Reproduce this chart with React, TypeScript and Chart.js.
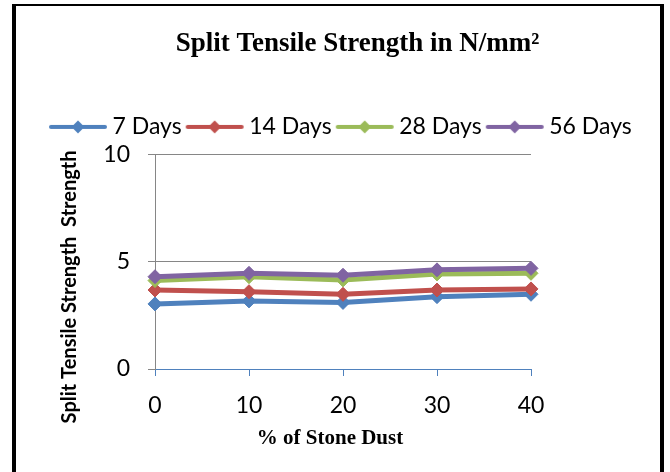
import React, { useEffect, useRef } from "react";
import { Chart, registerables } from "chart.js";
Chart.register(...registerables);

const categories = ["0", "10", "20", "30", "40"];
const seriesNames = ["7 Days", "14 Days", "28 Days", "56 Days"];
const days7 = [3.04, 3.18, 3.11, 3.38, 3.49];
const days14 = [3.69, 3.61, 3.49, 3.69, 3.74];
const days28 = [4.13, 4.31, 4.16, 4.44, 4.47];
const days56 = [4.31, 4.47, 4.38, 4.63, 4.7];
const yMin = 0;
const yMax = 10;
const yStep = 5;
const colors = ["#4F81BD", "#C0504D", "#9BBB59", "#8064A2"];

const chartTitle = "Split Tensile Strength in N/mm²";
const xTitle = "% of Stone Dust";
const yTitle = "Split Tensile Strength  Strength";

const SANS = "Lato";
const SERIF = "'Liberation Serif', 'Times New Roman', serif";

function legendSample(color: string) {
  const c = document.createElement("canvas");
  c.width = 60;
  c.height = 14;
  const ctx = c.getContext("2d")!;
  ctx.strokeStyle = color;
  ctx.lineWidth = 4;
  ctx.lineCap = "round";
  ctx.beginPath();
  ctx.moveTo(3, 7);
  ctx.lineTo(57, 7);
  ctx.stroke();
  ctx.fillStyle = color;
  ctx.beginPath();
  ctx.moveTo(30, 0.5);
  ctx.lineTo(36.5, 7);
  ctx.lineTo(30, 13.5);
  ctx.lineTo(23.5, 7);
  ctx.closePath();
  ctx.fill();
  return c;
}

const axisTitles = {
  id: "axisTitles",
  afterDraw(chart: any) {
    const { ctx, chartArea } = chart;
    ctx.save();
    ctx.fillStyle = "#000";
    ctx.textAlign = "center";
    ctx.textBaseline = "middle";
    ctx.font = `bold 21px ${SERIF}`;
    ctx.fillText(xTitle, (chartArea.left + chartArea.right) / 2 - 13, chartArea.bottom + 70);
    ctx.translate(chartArea.left - 85, (chartArea.top + chartArea.bottom) / 2 + 25);
    ctx.rotate(-Math.PI / 2);
    ctx.font = `bold 20px ${SANS}`;
    ctx.fillText(yTitle, 0, 0);
    ctx.restore();
  },
};

export default function App() {
  const ref = useRef<HTMLCanvasElement>(null);
  useEffect(() => {
    if (!ref.current) return;
    const all = [days7, days14, days28, days56];
    const samples = colors.map((c) => legendSample(c));
    const chart = new Chart(ref.current, {
      type: "line",
      data: {
        labels: categories,
        datasets: all.map((d, i) => ({
          label: seriesNames[i],
          data: d,
          borderColor: colors[i],
          backgroundColor: colors[i],
          borderWidth: 5,
          pointStyle: "rectRot",
          pointRadius: 7,
          pointBorderWidth: 1,
          pointBorderColor: colors[i],
          pointBackgroundColor: colors[i],
          tension: 0,
          fill: false,
          order: 4 - i,
        })),
      },
      options: {
        animation: false,
        responsive: false,
        devicePixelRatio: 1,
        layout: { padding: { left: 45, right: 0, top: 0, bottom: 0 } },
        plugins: {
          tooltip: { enabled: false },
          title: {
            display: true,
            text: chartTitle,
            color: "#000",
            font: { family: SERIF, size: 27, weight: "bold" },
            padding: { top: 28, bottom: 45 },
          },
          legend: {
            display: true,
            position: "top",
            align: "start",
            labels: {
              usePointStyle: true,
              pointStyleWidth: 46,
              color: "#000",
              font: { family: SANS, size: 23 },
              padding: 10,
              sort: (a: any, b: any) => a.datasetIndex - b.datasetIndex,
              generateLabels: (ch: any) => {
                const items = (Chart as any).defaults.plugins.legend.labels.generateLabels(ch);
                return items.map((it: any) => ({ ...it, pointStyle: samples[it.datasetIndex] }));
              },
            },
          },
        },
        scales: {
          x: {
            type: "category",
            offset: false,
            grid: {
              drawOnChartArea: false,
              drawTicks: true,
              tickLength: 7,
              color: "#4F81BD",
              tickColor: "#4F81BD",
            },
            border: { display: true, color: "#4F81BD", width: 1 },
            ticks: { color: "#000", font: { family: SANS, size: 23 }, padding: 16, maxRotation: 0 },
            afterFit: (s: any) => {
              s.height = 103;
            },
          },
          xTop: {
            type: "linear",
            position: "top",
            display: true,
            grid: { display: false, drawTicks: false },
            border: { display: false },
            ticks: { display: false },
            afterFit: (s: any) => {
              s.height = 6.5;
            },
          },
          y: {
            type: "linear",
            min: yMin,
            max: yMax,
            ticks: { stepSize: yStep, color: "#000", font: { family: SANS, size: 23 }, padding: 18 },
            grid: {
              color: (c: any) => (c.tick && c.tick.value === yMin ? "rgba(0,0,0,0)" : "#868686"),
              tickColor: "#868686",
              tickLength: 7,
              lineWidth: 1,
            },
            border: { display: true, color: "#868686", width: 1 },
            afterFit: (s: any) => {
              s.width = 110;
            },
          },
          yR: {
            type: "linear",
            position: "right",
            display: true,
            grid: { display: false, drawTicks: false },
            border: { display: false },
            ticks: { display: false },
            afterFit: (s: any) => {
              s.width = 139;
            },
          },
        },
      } as any,
      plugins: [axisTitles],
    });
    return () => chart.destroy();
  }, []);

  return (
    <div style={{ position: "absolute", left: 0, top: 0, width: 670, height: 472, background: "#fff", overflow: "hidden" }}>
      <div
        style={{
          position: "absolute",
          left: 12,
          top: 4,
          width: 652,
          height: 520,
          boxSizing: "border-box",
          borderLeft: "4px solid #000",
          borderRight: "4px solid #000",
          borderTop: "2px solid #000",
        }}
      />
      <canvas ref={ref} width={670} height={472} style={{ position: "absolute", left: 0, top: 0, width: 670, height: 472 }} />
    </div>
  );
}
